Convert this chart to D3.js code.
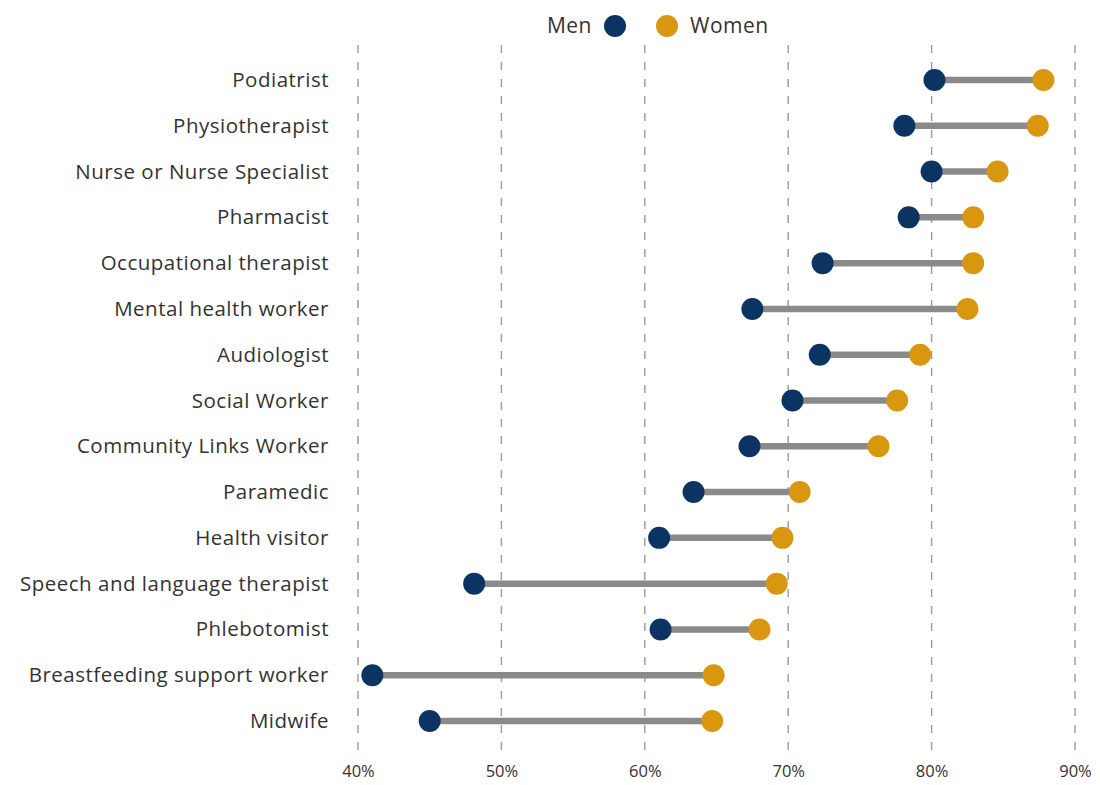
<!DOCTYPE html>
<html>
<head>
<meta charset="utf-8">
<script src="https://cdn.jsdelivr.net/npm/d3@7"></script>
<style>
body { margin: 0; background: #fff; }
text { font-family: "Open Sans", "Lato", sans-serif; fill: #333; }
</style>
</head>
<body>
<svg id="chart" width="1100" height="785"></svg>
<script>
var roles = ['Podiatrist', 'Physiotherapist', 'Nurse or Nurse Specialist', 'Pharmacist',
	'Occupational therapist', 'Mental health worker', 'Audiologist', 'Social Worker',
	'Community Links Worker', 'Paramedic', 'Health visitor', 'Speech and language therapist',
	'Phlebotomist', 'Breastfeeding support worker', 'Midwife'];
var men = [80.2, 78.1, 80.0, 78.4, 72.4, 67.5, 72.2, 70.3, 67.3, 63.4, 61.0, 48.1, 61.1, 41.0, 45.0];
var women = [87.8, 87.4, 84.6, 82.9, 82.9, 82.5, 79.2, 77.6, 76.3, 70.8, 69.6, 69.2, 68.0, 64.8, 64.7];
var ticks = [40, 50, 60, 70, 80, 90];

var NAVY = '#0c3463', GOLD = '#d9960f';
var FONT = '"Open Sans", Lato, sans-serif';

var svg = d3.select('#chart');

var x = d3.scaleLinear().domain([40, 90]).range([358, 1075]);
var y = d3.scalePoint().domain(roles).range([80, 721]);

// dashed grid
svg.append('g').selectAll('line').data(ticks).enter().append('line')
	.attr('x1', function (d) { return x(d); })
	.attr('x2', function (d) { return x(d); })
	.attr('y1', 45).attr('y2', 750)
	.attr('stroke', '#9a9a9a').attr('stroke-width', 1.4)
	.attr('stroke-dasharray', '8,9');

// x axis labels
var xAxis = d3.axisBottom(x).tickValues(ticks).tickSize(0)
	.tickFormat(function (d) { return d + '%'; });
var ax = svg.append('g').attr('transform', 'translate(0,762)').call(xAxis);
ax.select('.domain').remove();
ax.selectAll('text').attr('font-size', 16.5).attr('font-family', FONT).attr('fill', '#333');

// role labels
var yAxis = d3.axisLeft(y).tickSize(0).tickPadding(0);
var ay = svg.append('g').attr('transform', 'translate(329,0)').call(yAxis);
ay.select('.domain').remove();
ay.selectAll('text').attr('font-size', 20.5).attr('font-family', FONT)
	.attr('letter-spacing', 0.5).attr('fill', '#333');

var rows = svg.append('g').selectAll('g').data(roles).enter().append('g');

rows.append('line')
	.attr('x1', function (d, i) { return x(men[i]); })
	.attr('x2', function (d, i) { return x(women[i]); })
	.attr('y1', function (d) { return y(d); })
	.attr('y2', function (d) { return y(d); })
	.attr('stroke', '#8a8a8a').attr('stroke-width', 6.5);

rows.append('circle')
	.attr('cx', function (d, i) { return x(men[i]); })
	.attr('cy', function (d) { return y(d); })
	.attr('r', 11).attr('fill', NAVY);

rows.append('circle')
	.attr('cx', function (d, i) { return x(women[i]); })
	.attr('cy', function (d) { return y(d); })
	.attr('r', 11).attr('fill', GOLD);

// legend
var legend = svg.append('g').attr('font-size', 21).attr('letter-spacing', 0.5);
legend.append('text').attr('x', 592).attr('y', 33).attr('text-anchor', 'end').text('Men');
legend.append('circle').attr('cx', 615).attr('cy', 26).attr('r', 11).attr('fill', NAVY);
legend.append('circle').attr('cx', 667).attr('cy', 26).attr('r', 11).attr('fill', GOLD);
legend.append('text').attr('x', 690).attr('y', 33).text('Women');
</script>
</body>
</html>
